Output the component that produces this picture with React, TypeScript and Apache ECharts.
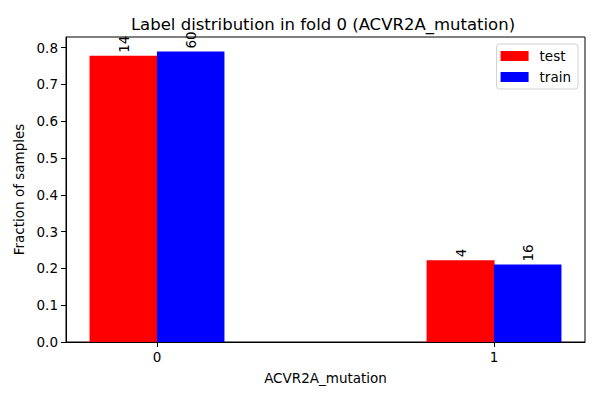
import React, { useEffect, useRef } from "react";
import * as echarts from "echarts";

const categories = [0, 1];
const testCounts = [14, 4];
const trainCounts = [60, 16];
const testFractions = [0.7778, 0.2222];
const trainFractions = [0.7895, 0.2105];
const yTicks = [0, 0.1, 0.2, 0.3, 0.4, 0.5, 0.6, 0.7, 0.8];

const FONT = "DejaVu Sans";
const BAR_OFFSET = 0.1;

export default function App() {
  const ref = useRef<HTMLDivElement>(null);
  useEffect(() => {
    document.body.style.margin = "0";
    const chart = echarts.init(ref.current!, null, { renderer: "svg" });
    const mk = (fr: number[], counts: number[], off: number) =>
      categories.map((c, i) => ({ value: [c + off, fr[i]], count: counts[i] }));
    const label = {
      show: true,
      position: "top",
      rotate: 90,
      align: "left",
      verticalAlign: "middle",
      distance: 3,
      color: "#000",
      fontFamily: FONT,
      fontSize: 13.5,
      formatter: (p: any) => String(p.data.count),
    };
    chart.setOption({
      animation: false,
      textStyle: { fontFamily: FONT },
      title: {
        text: "Label distribution in fold 0 (ACVR2A_mutation)",
        left: 318,
        textAlign: "center",
        top: 11,
        textStyle: { fontFamily: FONT, fontSize: 16.5, fontWeight: "normal", color: "#000" },
      },
      legend: {
        right: 22,
        top: 44,
        orient: "vertical",
        icon: "rect",
        itemWidth: 28,
        itemHeight: 10,
        itemGap: 7,
        padding: [5, 7, 5, 4],
        borderColor: "#d0d0d0",
        borderWidth: 1,
        borderRadius: 3,
        backgroundColor: "rgba(255,255,255,0.8)",
        textStyle: { fontFamily: FONT, fontSize: 13.5, color: "#000", padding: [0, 0, 0, 6] },
        data: ["test", "train"],
      },
      grid: {
        left: 66,
        right: 15,
        top: 37,
        bottom: 58,
        show: true,
        borderColor: "#000",
        borderWidth: 1,
        backgroundColor: "transparent",
      },
      xAxis: {
        type: "value",
        min: -0.27,
        max: 1.27,
        name: "ACVR2A_mutation",
        nameLocation: "middle",
        nameGap: 29,
        nameTextStyle: { fontFamily: FONT, fontSize: 13.5, color: "#000" },
        axisLine: { show: true, onZero: false, lineStyle: { color: "#000" } },
        axisTick: { show: true, length: 5, customValues: categories, lineStyle: { color: "#000" } },
        axisLabel: {
          customValues: categories,
          fontFamily: FONT,
          fontSize: 13.5,
          color: "#000",
          margin: 8,
          formatter: (v: number) => String(v),
        },
        splitLine: { show: false },
      },
      yAxis: {
        type: "value",
        min: 0,
        max: 0.8289,
        name: "Fraction of samples",
        nameLocation: "middle",
        nameGap: 38,
        nameTextStyle: { fontFamily: FONT, fontSize: 13.5, color: "#000" },
        axisLine: { show: true, onZero: false, lineStyle: { color: "#000" } },
        axisTick: { show: true, length: 5, inside: false, customValues: yTicks, lineStyle: { color: "#000" } },
        axisLabel: {
          customValues: yTicks,
          fontFamily: FONT,
          fontSize: 13.5,
          color: "#000",
          margin: 8,
          formatter: (v: number) => v.toFixed(1),
        },
        splitLine: { show: false },
      },
      series: [
        {
          name: "test",
          type: "bar",
          barWidth: 68,
          barGap: "-100%",
          itemStyle: { color: "#ff0000" },
          label,
          data: mk(testFractions, testCounts, -BAR_OFFSET),
        },
        {
          name: "train",
          type: "bar",
          barWidth: 67.5,
          barGap: "-100%",
          itemStyle: { color: "#0000ff" },
          label,
          data: mk(trainFractions, trainCounts, BAR_OFFSET),
        },
      ],
    });
    return () => chart.dispose();
  }, []);
  return <div ref={ref} style={{ width: 600, height: 400 }} />;
}
